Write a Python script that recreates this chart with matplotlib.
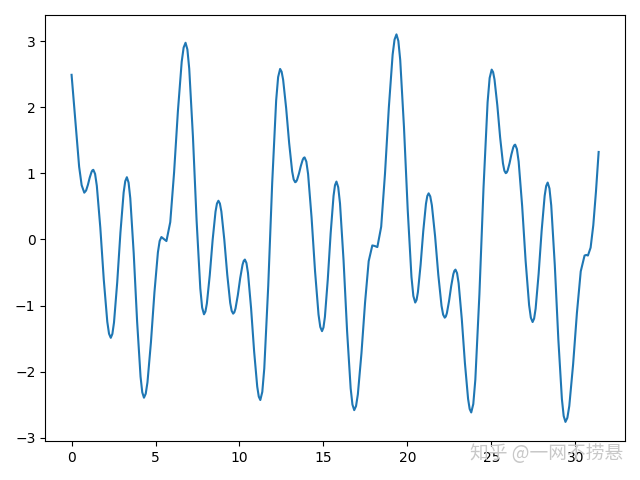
import matplotlib
matplotlib.use("Agg")
import matplotlib.pyplot as plt

# points, as (x, y)
curve_pts = [
    (0.0, 2.49), (0.15, 2.02), (0.3, 1.55), (0.45, 1.10), (0.6, 0.82), (0.757, 0.707),
    (0.865, 0.740), (0.973, 0.826), (1.080, 0.934), (1.188, 1.020), (1.242, 1.045), (1.296, 1.053),
    (1.400, 0.991), (1.504, 0.810), (1.712, 0.176), (1.919, -0.612), (2.127, -1.246), (2.231, -1.427), (2.335, -1.489),
    (2.431, -1.429), (2.527, -1.257), (2.718, -0.651), (2.910, 0.103), (3.101, 0.709), (3.197, 0.881), (3.293, 0.941),
    (3.395, 0.859), (3.497, 0.622), (3.701, -0.210), (3.904, -1.244), (4.108, -2.076), (4.210, -2.313), (4.312, -2.395),
    (4.416, -2.335), (4.520, -2.163), (4.727, -1.556), (4.935, -0.803), (5.142, -0.196), (5.246, -0.024), (5.350, 0.036),
    (5.500, 0.005), (5.650, -0.025),
    (5.878, 0.262), (6.105, 1.010), (6.333, 1.940), (6.560, 2.689), (6.674, 2.902), (6.788, 2.975),
    (6.898, 2.874), (7.008, 2.583), (7.228, 1.558), (7.447, 0.284), (7.667, -0.741), (7.777, -1.032), (7.887, -1.133),
    (7.973, -1.091), (8.059, -0.969), (8.231, -0.540), (8.402, -0.008), (8.574, 0.421), (8.660, 0.543), (8.746, 0.585),
    (8.834, 0.543), (8.922, 0.422), (9.097, -0.004), (9.273, -0.534), (9.448, -0.960), (9.536, -1.081), (9.624, -1.123),
    (9.694, -1.103), (9.764, -1.045), (9.904, -0.841), (10.043, -0.587), (10.183, -0.383), (10.253, -0.325), (10.323, -0.305),
    (10.415, -0.357), (10.507, -0.508), (10.691, -1.038), (10.874, -1.697), (11.058, -2.227), (11.150, -2.378), (11.242, -2.430),
    (11.360, -2.307), (11.478, -1.952), (11.714, -0.702), (11.949, 0.851), (12.185, 2.101), (12.303, 2.456), (12.421, 2.579),
    (12.511, 2.537), (12.601, 2.415), (12.780, 1.988), (12.960, 1.456), (13.139, 1.029), (13.229, 0.907), (13.319, 0.865),
    (13.375, 0.874), (13.431, 0.901), (13.543, 0.995), (13.655, 1.111), (13.767, 1.205), (13.823, 1.232), (13.879, 1.241),
    (13.983, 1.177), (14.087, 0.990), (14.294, 0.334), (14.502, -0.481), (14.709, -1.137), (14.813, -1.324), (14.917, -1.388),
    (15.003, -1.333), (15.089, -1.172), (15.260, -0.607), (15.432, 0.094), (15.604, 0.659), (15.690, 0.820), (15.776, 0.875),
    (15.882, 0.790), (15.988, 0.545), (16.200, -0.318), (16.411, -1.390), (16.623, -2.253), (16.729, -2.498), (16.835, -2.583),
    (16.943, -2.522), (17.051, -2.345), (17.266, -1.723), (17.482, -0.951), (17.697, -0.329), (17.913, -0.091),
    (18.063, -0.100), (18.213, -0.116),
    (18.441, 0.191), (18.668, 0.994), (18.896, 1.992), (19.123, 2.795), (19.237, 3.023), (19.351, 3.102),
    (19.463, 3.003), (19.575, 2.715), (19.798, 1.702), (20.022, 0.445), (20.245, -0.568), (20.357, -0.856), (20.469, -0.955),
    (20.549, -0.915), (20.629, -0.797), (20.789, -0.385), (20.948, 0.127), (21.108, 0.539), (21.188, 0.657), (21.268, 0.697),
    (21.364, 0.651), (21.460, 0.517), (21.652, 0.048), (21.843, -0.535), (22.035, -1.004), (22.131, -1.138), (22.227, -1.184),
    (22.291, -1.166), (22.355, -1.115), (22.483, -0.933), (22.610, -0.708), (22.738, -0.526), (22.802, -0.475), (22.866, -0.457),
    (22.960, -0.510), (23.054, -0.663), (23.242, -1.203), (23.429, -1.872), (23.617, -2.412), (23.711, -2.565), (23.805, -2.618),
    (23.927, -2.491), (24.049, -2.123), (24.292, -0.828), (24.536, 0.779), (24.779, 2.074), (24.901, 2.442), (25.023, 2.569),
    (25.107, 2.531), (25.191, 2.419), (25.359, 2.028), (25.526, 1.543), (25.694, 1.152), (25.778, 1.040), (25.862, 1.002),
    (25.918, 1.013), (25.974, 1.043), (26.086, 1.151), (26.197, 1.285), (26.309, 1.393), (26.365, 1.423), (26.421, 1.434),
    (26.525, 1.368), (26.629, 1.178), (26.837, 0.508), (27.044, -0.324), (27.252, -0.994), (27.356, -1.184), (27.460, -1.250),
    (27.550, -1.198), (27.640, -1.048), (27.819, -0.522), (27.999, 0.132), (28.178, 0.658), (28.268, 0.808), (28.358, 0.860),
    (28.464, 0.771), (28.570, 0.514), (28.782, -0.389), (28.993, -1.512), (29.205, -2.415), (29.311, -2.672), (29.417, -2.761),
    (29.531, -2.699), (29.645, -2.521), (29.872, -1.893), (30.100, -1.112), (30.327, -0.484), (30.555, -0.244),
    (30.655, -0.235), (30.755, -0.244),
    (30.915, -0.125), (31.075, 0.215), (31.234, 0.723), (31.394, 1.323),
]

watermark = "知乎 @一网不捞悬"

xs = [p[0] for p in curve_pts]
ys = [p[1] for p in curve_pts]

fig = plt.figure(figsize=(6.4, 4.8), dpi=100)
plt.plot(xs, ys)
plt.tight_layout()

# zhihu watermark in the lower right corner
fig.text(0.734, 0.056, watermark, fontsize=13.5, color="#c8c8c8",
         family=["Noto Sans CJK SC", "DejaVu Sans"], va="center", zorder=10)

plt.savefig("out.png")
